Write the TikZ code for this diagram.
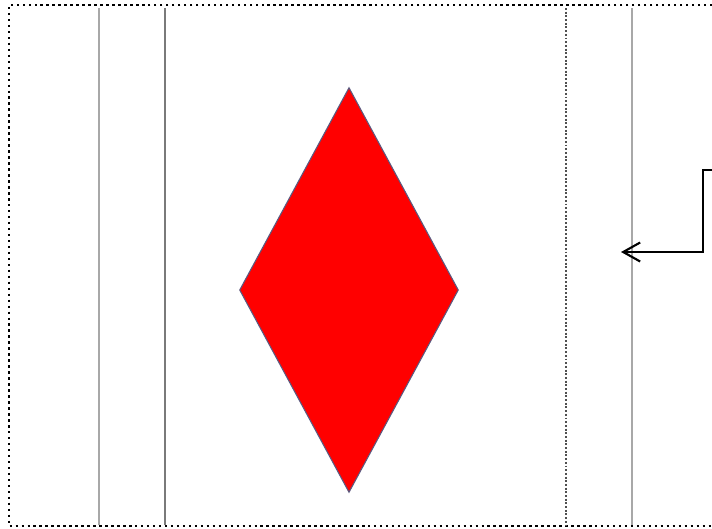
\documentclass[tikz,border=0pt]{standalone}
\usepackage{tikz}
\usetikzlibrary{arrows.meta,shapes.geometric}
\definecolor{ink}{HTML}{000000}
\definecolor{rulegray}{HTML}{A8A8A8}
\definecolor{rulemid}{HTML}{7A7A7A}
\definecolor{ruledark}{HTML}{505050}
\definecolor{cardred}{HTML}{FF0000}
\definecolor{cardedge}{HTML}{5A5A80}
\tikzset{
  frame/.style={draw=ink,line width=1.4pt,dotted},
  guide/.style={draw=rulegray,line width=1.1pt},
  guidemid/.style={draw=rulemid,line width=1.1pt},
  guidedark/.style={draw=ruledark,line width=1.1pt,densely dotted},
  suit/.style={diamond,draw=cardedge,fill=cardred,line width=0.6pt,
               inner sep=0pt,minimum width=4.38cm,minimum height=8.1cm},
  pointer/.style={-{Straight Barb[length=3.4mm,width=3.8mm]},line width=1.2pt,draw=ink}
}
\begin{document}
\begin{tikzpicture}[x=0.02cm,y=-0.02cm]
    \useasboundingbox[fill=white] (0,0) rectangle (712,528);
    % page frame
    \draw[frame] (712,5) -| (9,526) -- (712,526);
    % guide lines
    \draw[guide] (99,8) -- (99,525);
    \draw[guidemid] (165,8) -- (165,525);
    \draw[guidedark] (566,8) -- (566,525);
    \draw[guide] (632,8) -- (632,525);
    % the card suit
    \node[suit] (gem) at (349,290) {};
    % callout
    \coordinate (tail) at (714,170);
    \coordinate (tip) at (621,252);
    \draw[pointer] (tail) -- ++(-11,0) |- (tip);
\end{tikzpicture}
\end{document}
